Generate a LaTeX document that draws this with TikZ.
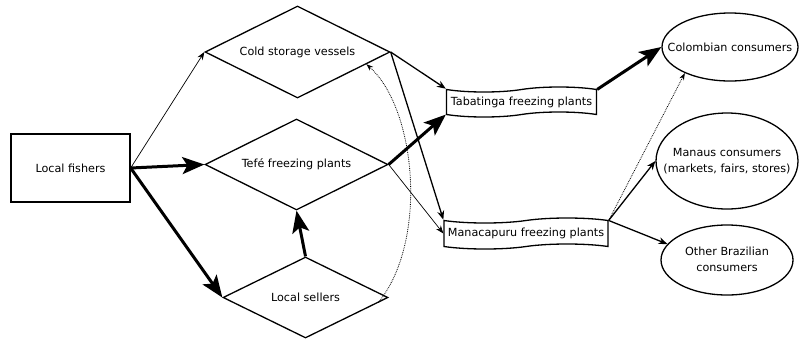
\documentclass[tikz,border=0pt]{standalone}
\usepackage{fontspec}
\setmainfont{DejaVu Sans}
\usetikzlibrary{shapes.geometric,shapes.symbols,arrows.meta}
\begin{document}
\begin{tikzpicture}[x=1pt,y=-1pt,
  every node/.style={font=\fontsize{11.2}{16}\selectfont},
  rbox/.style={draw, line width=1.3pt, minimum width=119pt, minimum height=68pt, inner sep=0pt},
  dia/.style={draw, diamond, line width=1.3pt, inner sep=0pt},
  tp/.style={draw, tape, line width=1.3pt, inner sep=0pt, tape bend height=5pt},
  ell/.style={draw, ellipse, line width=1.3pt, inner sep=0pt},
  thinarr/.style={-{Stealth[length=8pt,width=6pt]}, line width=0.7pt},
  midarr/.style={-{Stealth[length=9pt,width=7pt]}, line width=1.3pt},
  thickarr/.style={-{Stealth[length=22pt,width=17pt,inset=5pt]}, line width=3pt},
  dotarr/.style={densely dotted, -{Stealth[length=7pt,width=5pt]}, line width=0.8pt}]
\useasboundingbox (0,0) rectangle (799,341);

\node[rbox] (fish) at (70.5,168) {Local fishers};
\node[dia, minimum width=185pt, minimum height=92pt] (cold) at (297.5,52) {\makebox[0pt]{Cold storage vessels}};
\node[dia, minimum width=183pt, minimum height=91pt] (tefe) at (296.5,164.5) {\makebox[0pt]{Tefé freezing plants}};
\node[dia, minimum width=165pt, minimum height=81pt] (sell) at (305.5,297.5) {\makebox[0pt]{Local sellers}};
\node[tp, minimum width=150pt, minimum height=30pt] (tab) at (521.5,102) {Tabatinga freezing plants};
\node[tp, minimum width=164pt, minimum height=31pt] (man) at (526,233.5) {Manacapuru freezing plants};
\node[ell, minimum width=136pt, minimum height=68pt] (col) at (730,47) {\makebox[0pt]{Colombian consumers}};
\node[ell, minimum width=142pt, minimum height=96pt] (mao) at (727,161) {\makebox[0pt]{\begin{tabular}{@{}c@{}}Manaus consumers\\(markets, fairs, stores)\end{tabular}}};
\node[ell, minimum width=132pt, minimum height=70pt] (oth) at (727,260) {\makebox[0pt]{\begin{tabular}{@{}c@{}}Other Brazilian\\consumers\end{tabular}}};

\draw[thinarr] (fish.east) -- (cold.west);
\draw[thickarr] (fish.east) -- (tefe.west);
\draw[thickarr] (fish.east) -- (sell.west);
\draw[thickarr] (sell.north) -- (tefe.south);
\draw[thickarr] (tefe.east) -- (tab.south west);
\draw[thinarr] (tefe.east) -- (man.west);
\draw[midarr] (cold.east) -- (tab.north west);
\draw[midarr] (cold.east) -- (man.north west);
\draw[dotarr] (sell.-4) .. controls +(50,-62) and +(50,45) .. (cold.-10);
\draw[thickarr] (tab.north east) -- (col.west);
\draw[dotarr] (man.north east) -- (col.210);
\draw[midarr] (man.north east) -- (mao.west);
\draw[midarr] (man.north east) -- (oth.165);
\end{tikzpicture}
\end{document}
